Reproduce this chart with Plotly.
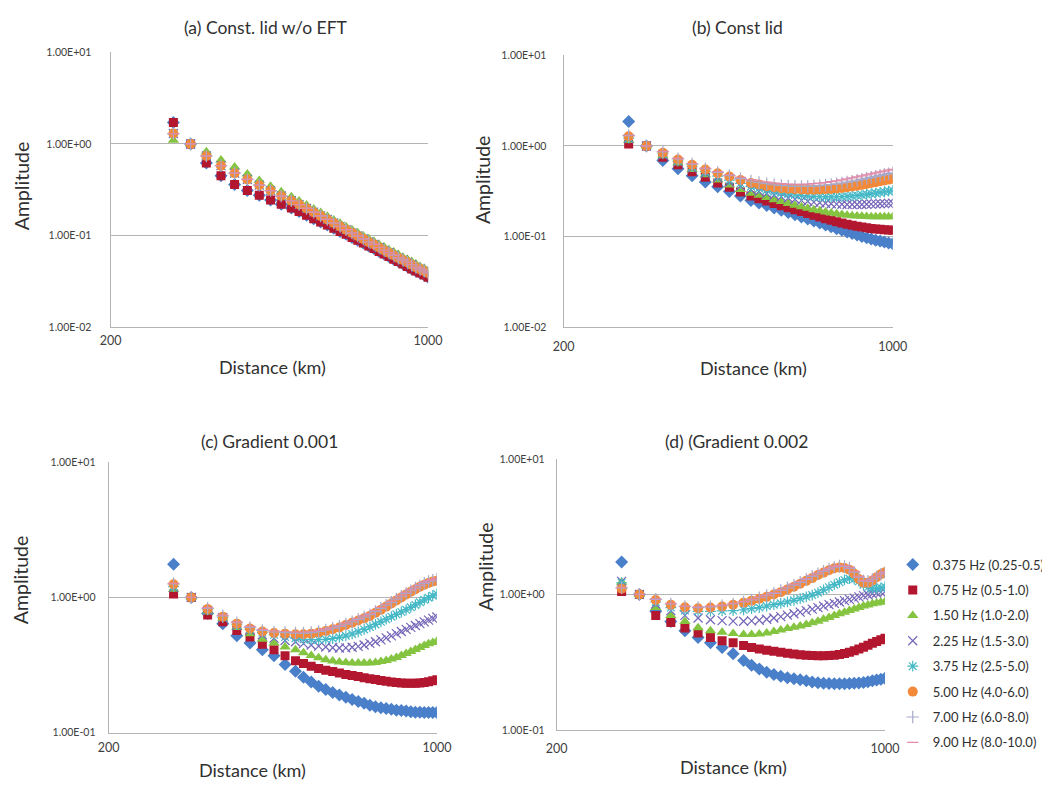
import plotly.graph_objects as go

# distances (km) where the amplitudes were sampled
distance_km = [275, 300, 325, 350, 375, 400, 425, 450, 475, 500,
               520, 540, 560, 580, 600, 620, 640, 660, 680, 700,
               720, 740, 760, 780, 800, 820, 840, 860, 880, 900,
               920, 940, 960, 980, 1000]

series_names = ["0.375 Hz (0.25-0.5)", "0.75 Hz (0.5-1.0)", "1.50 Hz (1.0-2.0)",
                "2.25 Hz (1.5-3.0)", "3.75 Hz (2.5-5.0)", "5.00 Hz (4.0-6.0)",
                "7.00 Hz (6.0-8.0)", "9.00 Hz (8.0-10.0)"]

# (a) Const. lid w/o EFT
a_red = [1.72, 1.0, 0.62, 0.45, 0.36, 0.31, 0.275, 0.245, 0.22, 0.20,
         0.183, 0.167, 0.153, 0.141, 0.130, 0.120, 0.111, 0.103, 0.095, 0.089,
         0.083, 0.077, 0.072, 0.067, 0.063, 0.059, 0.055, 0.052, 0.049, 0.046,
         0.043, 0.041, 0.039, 0.037, 0.035]
a_blue = a_red
a_green = [1.1, 1.0, 0.82, 0.67, 0.56, 0.47, 0.40, 0.345, 0.30, 0.265,
           0.238, 0.215, 0.195, 0.178, 0.162, 0.148, 0.136, 0.125, 0.116, 0.107,
           0.099, 0.092, 0.086, 0.080, 0.075, 0.070, 0.066, 0.062, 0.058, 0.055,
           0.052, 0.049, 0.046, 0.044, 0.041]
a_mid = [1.3, 1.0, 0.74, 0.58, 0.48, 0.41, 0.355, 0.31, 0.27, 0.24,
         0.218, 0.198, 0.180, 0.164, 0.150, 0.137, 0.126, 0.116, 0.107, 0.099,
         0.092, 0.085, 0.080, 0.074, 0.069, 0.065, 0.061, 0.057, 0.054, 0.051,
         0.048, 0.045, 0.043, 0.041, 0.039]

# (b) Const lid
b_blue = [1.86, 1.0, 0.69, 0.56, 0.47, 0.40, 0.355, 0.315, 0.28, 0.25,
          0.235, 0.220, 0.207, 0.195, 0.184, 0.174, 0.164, 0.156, 0.148, 0.141,
          0.134, 0.128, 0.122, 0.117, 0.112, 0.108, 0.104, 0.100, 0.097, 0.094,
          0.091, 0.089, 0.087, 0.085, 0.083]
b_red = [1.05, 1.0, 0.75, 0.62, 0.52, 0.45, 0.39, 0.35, 0.31, 0.28,
         0.262, 0.246, 0.232, 0.219, 0.208, 0.198, 0.189, 0.180, 0.172, 0.164,
         0.157, 0.151, 0.146, 0.141, 0.137, 0.133, 0.130, 0.127, 0.125, 0.123,
         0.121, 0.120, 0.119, 0.118, 0.117]
b_green = [1.15, 1.0, 0.78, 0.65, 0.55, 0.48, 0.42, 0.37, 0.33, 0.30,
           0.285, 0.27, 0.255, 0.243, 0.232, 0.222, 0.213, 0.205, 0.198, 0.192,
           0.187, 0.182, 0.178, 0.175, 0.172, 0.170, 0.168, 0.167, 0.166, 0.165,
           0.165, 0.165, 0.165, 0.165, 0.165]
b_purple = [1.2, 1.0, 0.80, 0.67, 0.57, 0.50, 0.445, 0.40, 0.36, 0.33,
            0.315, 0.30, 0.287, 0.276, 0.266, 0.258, 0.251, 0.245, 0.240, 0.236,
            0.233, 0.230, 0.228, 0.227, 0.226, 0.226, 0.226, 0.226, 0.227, 0.228,
            0.229, 0.230, 0.231, 0.232, 0.233]
b_cyan = [1.22, 1.0, 0.82, 0.68, 0.59, 0.52, 0.465, 0.42, 0.385, 0.355,
          0.34, 0.325, 0.313, 0.303, 0.295, 0.289, 0.284, 0.28, 0.277, 0.275,
          0.274, 0.274, 0.275, 0.276, 0.278, 0.281, 0.284, 0.288, 0.292, 0.297,
          0.302, 0.307, 0.312, 0.317, 0.322]
b_orange = [1.28, 1.0, 0.84, 0.71, 0.62, 0.55, 0.50, 0.46, 0.42, 0.39,
            0.375, 0.36, 0.35, 0.342, 0.336, 0.332, 0.33, 0.329, 0.329, 0.33,
            0.332, 0.335, 0.339, 0.344, 0.35, 0.357, 0.364, 0.372, 0.38, 0.389,
            0.398, 0.407, 0.416, 0.425, 0.435]
b_grey = [1.3, 1.0, 0.86, 0.72, 0.63, 0.56, 0.51, 0.47, 0.435, 0.41,
          0.395, 0.383, 0.373, 0.366, 0.361, 0.358, 0.357, 0.358, 0.36, 0.364,
          0.369, 0.375, 0.382, 0.39, 0.399, 0.408, 0.418, 0.428, 0.439, 0.45,
          0.461, 0.472, 0.483, 0.494, 0.505]
b_pink = [1.32, 1.0, 0.87, 0.73, 0.64, 0.57, 0.52, 0.48, 0.45, 0.425,
          0.41, 0.398, 0.389, 0.383, 0.379, 0.377, 0.377, 0.379, 0.383, 0.388,
          0.395, 0.403, 0.412, 0.422, 0.433, 0.444, 0.456, 0.468, 0.48, 0.492,
          0.504, 0.516, 0.528, 0.54, 0.552]

# (c) Gradient 0.001
c_blue = [1.76, 1.0, 0.76, 0.64, 0.52, 0.46, 0.41, 0.37, 0.32, 0.285,
          0.257, 0.237, 0.221, 0.209, 0.198, 0.19, 0.183, 0.176, 0.17, 0.165,
          0.16, 0.156, 0.153, 0.151, 0.149, 0.147, 0.146, 0.145, 0.143, 0.142,
          0.142, 0.141, 0.141, 0.141, 0.141]
c_red = [1.06, 1.0, 0.74, 0.66, 0.57, 0.51, 0.45, 0.41, 0.37, 0.34,
         0.325, 0.31, 0.298, 0.29, 0.283, 0.276, 0.27, 0.265, 0.26, 0.255,
         0.251, 0.247, 0.243, 0.24, 0.237, 0.235, 0.233, 0.232, 0.232, 0.232,
         0.233, 0.235, 0.238, 0.242, 0.246]
c_green = [1.15, 1.0, 0.78, 0.70, 0.60, 0.54, 0.49, 0.46, 0.43, 0.41,
           0.39, 0.372, 0.358, 0.347, 0.339, 0.333, 0.33, 0.328, 0.327, 0.327,
           0.328, 0.331, 0.336, 0.342, 0.35, 0.36, 0.372, 0.385, 0.399, 0.413,
           0.427, 0.441, 0.454, 0.465, 0.475]
c_purple = [1.18, 1.0, 0.80, 0.71, 0.62, 0.57, 0.53, 0.50, 0.48, 0.47,
            0.455, 0.445, 0.437, 0.43, 0.425, 0.423, 0.424, 0.428, 0.435, 0.445,
            0.457, 0.47, 0.485, 0.502, 0.52, 0.54, 0.56, 0.58, 0.60, 0.62,
            0.64, 0.66, 0.68, 0.70, 0.716]
c_cyan = [1.2, 1.0, 0.81, 0.71, 0.63, 0.58, 0.55, 0.53, 0.51, 0.50,
          0.49, 0.487, 0.487, 0.49, 0.497, 0.507, 0.52, 0.537, 0.557, 0.58,
          0.605, 0.632, 0.66, 0.69, 0.72, 0.75, 0.78, 0.81, 0.845, 0.88,
          0.92, 0.96, 0.995, 1.03, 1.06]
c_orange = [1.25, 1.0, 0.82, 0.72, 0.64, 0.59, 0.56, 0.545, 0.54, 0.535,
            0.535, 0.54, 0.55, 0.565, 0.582, 0.60, 0.625, 0.65, 0.675, 0.70,
            0.73, 0.77, 0.81, 0.855, 0.90, 0.95, 1.0, 1.05, 1.1, 1.15,
            1.2, 1.24, 1.28, 1.31, 1.33]
c_grey = [1.26, 1.0, 0.83, 0.73, 0.65, 0.60, 0.57, 0.555, 0.55, 0.545,
          0.545, 0.55, 0.56, 0.575, 0.592, 0.61, 0.635, 0.66, 0.688, 0.715,
          0.745, 0.785, 0.83, 0.875, 0.92, 0.97, 1.02, 1.07, 1.12, 1.17,
          1.22, 1.27, 1.31, 1.34, 1.36]
c_pink = [1.27, 1.0, 0.84, 0.74, 0.66, 0.61, 0.58, 0.565, 0.56, 0.555,
          0.555, 0.56, 0.57, 0.585, 0.602, 0.62, 0.645, 0.672, 0.7, 0.73,
          0.76, 0.80, 0.845, 0.89, 0.94, 0.99, 1.04, 1.09, 1.14, 1.19,
          1.24, 1.29, 1.33, 1.36, 1.38]

# (d) Gradient 0.002
d_blue = [1.74, 1.0, 0.75, 0.63, 0.54, 0.48, 0.44, 0.405, 0.365, 0.325,
          0.30, 0.282, 0.266, 0.256, 0.249, 0.243, 0.238, 0.234, 0.23, 0.226,
          0.223, 0.221, 0.22, 0.219, 0.219, 0.219, 0.22, 0.221, 0.222, 0.224,
          0.227, 0.23, 0.233, 0.236, 0.24]
d_red = [1.05, 1.0, 0.70, 0.62, 0.565, 0.52, 0.48, 0.455, 0.44, 0.42,
         0.405, 0.395, 0.387, 0.38, 0.374, 0.368, 0.363, 0.359, 0.356, 0.354,
         0.353, 0.353, 0.354, 0.356, 0.36, 0.366, 0.374, 0.384, 0.395, 0.408,
         0.422, 0.436, 0.449, 0.462, 0.475]
d_green = [1.23, 1.0, 0.80, 0.70, 0.63, 0.567, 0.54, 0.525, 0.515, 0.507,
           0.505, 0.51, 0.52, 0.533, 0.547, 0.56, 0.572, 0.585, 0.60, 0.617,
           0.635, 0.655, 0.676, 0.698, 0.72, 0.74, 0.76, 0.78, 0.80, 0.82,
           0.837, 0.852, 0.865, 0.875, 0.885]
d_purple = [1.25, 1.0, 0.85, 0.76, 0.70, 0.67, 0.65, 0.64, 0.635, 0.634,
            0.638, 0.645, 0.656, 0.67, 0.686, 0.703, 0.72, 0.74, 0.76, 0.78,
            0.80, 0.82, 0.84, 0.86, 0.88, 0.90, 0.92, 0.94, 0.96, 0.98,
            0.995, 1.01, 1.025, 1.04, 1.05]
d_cyan = [1.22, 1.0, 0.88, 0.80, 0.76, 0.75, 0.75, 0.755, 0.76, 0.77,
          0.785, 0.80, 0.82, 0.84, 0.86, 0.88, 0.905, 0.93, 0.96, 0.99,
          1.03, 1.08, 1.13, 1.18, 1.23, 1.28, 1.31, 1.3, 1.25, 1.18,
          1.13, 1.11, 1.11, 1.12, 1.14]
d_orange = [1.1, 1.0, 0.91, 0.84, 0.805, 0.79, 0.80, 0.815, 0.84, 0.87,
            0.90, 0.93, 0.96, 1.0, 1.04, 1.09, 1.14, 1.2, 1.26, 1.32,
            1.39, 1.45, 1.51, 1.56, 1.58, 1.57, 1.52, 1.42, 1.3, 1.22,
            1.22, 1.27, 1.34, 1.41, 1.46]
d_grey = [1.12, 1.0, 0.92, 0.85, 0.815, 0.80, 0.81, 0.825, 0.85, 0.88,
          0.91, 0.945, 0.98, 1.02, 1.07, 1.12, 1.17, 1.23, 1.29, 1.36,
          1.42, 1.48, 1.54, 1.59, 1.62, 1.61, 1.56, 1.46, 1.34, 1.26,
          1.25, 1.29, 1.35, 1.41, 1.45]
d_pink = [1.13, 1.0, 0.93, 0.86, 0.82, 0.81, 0.82, 0.835, 0.86, 0.89,
          0.92, 0.955, 0.99, 1.03, 1.08, 1.13, 1.19, 1.25, 1.31, 1.38,
          1.44, 1.5, 1.56, 1.61, 1.64, 1.63, 1.58, 1.48, 1.36, 1.27,
          1.26, 1.3, 1.36, 1.42, 1.47]

panel_titles = ["(a) Const. lid w/o EFT", "(b) Const lid",
                "(c) Gradient 0.001", "(d) (Gradient 0.002"]
panel_data = [
    [a_blue, a_red, a_green, a_mid, a_mid, a_mid, a_mid, a_mid],
    [b_blue, b_red, b_green, b_purple, b_cyan, b_orange, b_grey, b_pink],
    [c_blue, c_red, c_green, c_purple, c_cyan, c_orange, c_grey, c_pink],
    [d_blue, d_red, d_green, d_purple, d_cyan, d_orange, d_grey, d_pink],
]

# marker look of each series (Excel style)
styles = [
    dict(symbol="diamond", color="#4a7fc9", size=10),
    dict(symbol="square", color="#b3172f", size=9),
    dict(symbol="triangle-up", color="#84c441", size=10),
    dict(symbol="x-thin-open", color="#7565b8", size=9),
    dict(symbol="asterisk-open", color="#45b8c6", size=9),
    dict(symbol="circle", color="#f28a3a", size=10),
    dict(symbol="cross-thin-open", color="#a8a8c8", size=9),
    dict(symbol="line-ew-open", color="#e08aa8", size=8),
]

# page body has an 8px margin, so the figure is offset by 8px
OFF = 8
W, H = 1050 - OFF, 789 - OFF


def px(x):
    return (x - OFF) / W


def py(y):
    return 1 - (y - OFF) / H


# plot areas in screen pixels: x0, x1, y_top, y_bottom
boxes = [(102, 428, 47, 326), (567, 905, 50, 326),
         (100, 437, 463, 738), (560, 897, 460, 735)]
y_ranges = [[-2, 1], [-2, 1], [-1, 1], [-1, 1]]
y_ticks = [[0.01, 0.1, 1, 10], [0.01, 0.1, 1, 10], [0.1, 1, 10], [0.1, 1, 10]]
y_labels = {0.01: "1.00E-02", 0.1: "1.00E-01", 1: "1.00E+00", 10: "1.00E+01"}
y_ticklen = [16, 14, 10, 9]
x_ticklen = [2, 8, 3, 7]

title_pos = [(262, 22), (746, 22), (265, 442), (745, 442)]
ytitle_pos = [(10, 182), (484, 176), (9, 582), (487, 569)]
xtitle_pos = [(268, 367), (762, 368), (248, 776), (742, 773)]

FONT = "Lato, Carlito, Calibri, sans-serif"
TXT = "#303030"
GRID = "#b4b4b4"

fig = go.Figure()

for p in range(4):
    sfx = "" if p == 0 else str(p + 1)
    for i, vals in enumerate(panel_data[p]):
        st = styles[i]
        fig.add_trace(go.Scatter(
            x=distance_km, y=vals, mode="markers", name=series_names[i],
            legendgroup=series_names[i], showlegend=(p == 3),
            xaxis="x" + sfx, yaxis="y" + sfx,
            marker=dict(symbol=st["symbol"], size=st["size"], color=st["color"],
                        line=dict(width=1.2 if "open" in st["symbol"] else 0,
                                  color=st["color"]))))

    x0, x1, yt, yb = boxes[p]
    fig.layout["xaxis" + sfx] = dict(
        type="log", range=[2.30103, 3], domain=[px(x0), px(x1)],
        anchor="y" + sfx, tickvals=[200, 1000], ticktext=["200", "1000"],
        showgrid=False, zeroline=False, showline=True, linecolor=GRID,
        ticks="outside", ticklen=x_ticklen[p], tickcolor="rgba(0,0,0,0)",
        tickfont=dict(family=FONT, size=12.5, color="#404040"))
    fig.layout["yaxis" + sfx] = dict(
        type="log", range=y_ranges[p], domain=[py(yb), py(yt)],
        anchor="x" + sfx, tickvals=y_ticks[p],
        ticktext=[y_labels[v] for v in y_ticks[p]],
        showgrid=True, gridcolor=GRID, zeroline=False,
        showline=True, linecolor=GRID,
        ticks="outside", ticklen=y_ticklen[p], tickcolor="rgba(0,0,0,0)",
        tickfont=dict(family=FONT, size=10.5, color="#404040"))

    tx, ty = title_pos[p]
    fig.add_annotation(text=panel_titles[p], x=px(tx), y=py(ty),
                       xref="paper", yref="paper", showarrow=False,
                       xanchor="center", yanchor="middle",
                       font=dict(family=FONT, size=17.5, color=TXT))
    ax, ay = ytitle_pos[p]
    fig.add_annotation(text="Amplitude", x=px(ax), y=py(ay), textangle=-90,
                       xref="paper", yref="paper", showarrow=False,
                       xanchor="center", yanchor="middle",
                       font=dict(family=FONT, size=19.5, color=TXT))
    bx, by = xtitle_pos[p]
    fig.add_annotation(text="Distance (km)", x=px(bx), y=py(by),
                       xref="paper", yref="paper", showarrow=False,
                       xanchor="center", yanchor="middle",
                       font=dict(family=FONT, size=18, color=TXT))

fig.update_layout(
    width=W, height=H, margin=dict(l=0, r=0, t=0, b=0),
    paper_bgcolor="white", plot_bgcolor="white",
    legend=dict(x=px(905), y=py(552), xanchor="left", yanchor="top",
                font=dict(family=FONT, size=13, color=TXT),
                tracegroupgap=5.5, itemwidth=30, bgcolor="rgba(0,0,0,0)"),
)

fig.write_html("out.html")
